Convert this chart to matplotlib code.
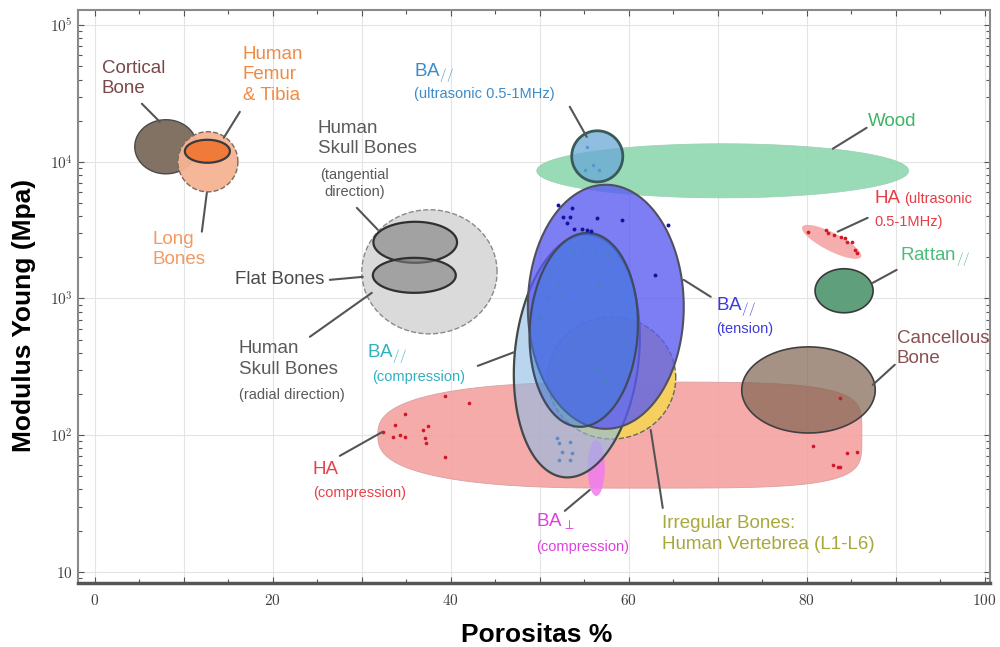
import numpy as np
import matplotlib
matplotlib.use('Agg')
import matplotlib.pyplot as plt
from matplotlib.colors import to_rgba
from matplotlib.ticker import MultipleLocator, FuncFormatter, LogLocator, NullFormatter

plt.rcParams['mathtext.fontset'] = 'cm'
plt.rcParams['font.family'] = ['Liberation Sans', 'DejaVu Sans']

# regions: centre porosity (%), centre modulus (MPa), half-width (%), half-height (decades), tilt (deg)
region_names = ['cortical', 'long', 'femur', 'skull', 'skull_tan', 'skull_rad', 'ba_us', 'wood',
                'ha_comp', 'ba_perp', 'irregular', 'ba_comp', 'ba_tens', 'ba_inner',
                'cancellous', 'rattan', 'ha_us']
region_x = [7.98, 12.7, 12.64, 37.6, 36.0, 35.9, 56.46, 70.56,
            59.0, 56.35, 58.09, 54.16, 57.42, 54.94,
            80.2, 84.2, 82.8]
region_y = [12880, 10000, 11940, 1567, 2576, 1476, 10960, 8590,
            100, 57.5, 262, 380, 869, 589,
            214, 1138, 2594]
region_dx = [3.5, 3.37, 2.53, 7.6, 4.7, 4.66, 2.87, 20.9,
             27.2, 0.95, 7.19, 6.97, 8.76, 6.07,
             7.5, 3.26, 3.71]
region_dlog = [0.198, 0.22, 0.084, 0.454, 0.15, 0.128, 0.187, 0.198,
               0.388, 0.205, 0.447, 0.893, 0.893, 0.71,
               0.315, 0.161, 0.066]
region_tilt = [0, 0, 0, 0, 0, 0, 0, 0,
               0, 0, 0, -6, 0, -3,
               0, 0, -27]

# measured points
ha_comp_x = [32.4, 33.7, 33.5, 34.3, 34.8, 34.9, 36.9, 37.4, 37.1, 37.2, 39.3, 39.3, 42.1,
             80.7, 84.5, 85.7, 82.9, 83.5, 83.7, 83.7]
ha_comp_y = [105, 119, 97, 100, 97, 143, 109, 117, 95, 88, 194, 69, 172,
             83, 74, 75, 60, 58, 58.5, 187]
ha_us_x = [80.1, 82.2, 82.4, 83.1, 83.9, 84.3, 84.5, 85.1, 85.4, 85.6]
ha_us_y = [3080, 3180, 3020, 2920, 2820, 2780, 2590, 2590, 2270, 2160]
ba_tens_x = [52.0, 53.6, 52.6, 53.4, 53.1, 56.4, 59.2, 53.9, 54.8, 55.3, 55.8, 64.4, 63.0]
ba_tens_y = [4840, 4600, 3950, 3950, 3570, 3890, 3760, 3240, 3240, 3180, 3130, 3460, 1490]
ba_comp_x = [53.7, 54.8, 56.2, 57.5, 51.1, 52.0, 56.4, 50.9, 52.5, 50.0, 53.4, 55.8, 59.3,
             56.4, 57.3, 51.9, 52.2, 53.4, 52.5, 53.6, 52.2, 53.4]
ba_comp_y = [2270, 2270, 2270, 2080, 1440, 1260, 1260, 1010, 1060, 721, 457, 481, 498,
             305, 249, 95, 88, 89, 75, 74, 66, 66]
ba_us_x = [55.3, 56.0, 56.7, 55.1]
ba_us_y = [12900, 9500, 8740, 8740]

styles = {
    'ha_comp':    dict(fc='#f59c9c', a=0.85, ec='#d8a0a0', lw=0.6, ls='-', z=2, nl=2.6, nr=4.5),
    'cortical':   dict(fc='#7b6a5c', a=0.95, ec='#4a4a4a', lw=1.0, ls='-', z=3),
    'long':       dict(fc='#f6b394', a=0.95, ec='#7a6a60', lw=1.0, ls='--', z=4),
    'femur':      dict(fc='#f07a3a', a=1.0, ec='#3a3a3a', lw=1.6, ls='-', z=5),
    'skull':      dict(fc='#dadada', a=1.0, ec='#8a8a8a', lw=1.0, ls='--', z=3),
    'skull_tan':  dict(fc='#7e7e7e', a=0.6, ec='#303030', lw=1.6, ls='-', z=4),
    'skull_rad':  dict(fc='#7e7e7e', a=0.6, ec='#303030', lw=1.6, ls='-', z=4),
    'wood':       dict(fc='#8ed8ae', a=0.9, ec='#9ad0b0', lw=0.5, ls='-', z=3),
    'ba_us':      dict(fc='#6aa8d8', a=0.75, ec='#3a5a5a', lw=2.0, ls='-', z=6),
    'ba_perp':    dict(fc='#f07af0', a=0.85, ec='none', lw=0, ls='-', z=3),
    'irregular':  dict(fc='#f7d35a', a=0.95, ec='#6a6a5a', lw=1.0, ls='--', z=3),
    'ba_comp':    dict(fc='#8cbce4', a=0.6, ec='#404848', lw=1.6, ls='-', z=4),
    'ba_tens':    dict(fc='#5c5cf2', a=0.8, ec='#505060', lw=1.5, ls='-', z=5),
    'ba_inner':   dict(fc='#3a7ad8', a=0.5, ec='#404a60', lw=1.6, ls='-', z=6),
    'cancellous': dict(fc='#806450', a=0.7, ec='#404040', lw=1.2, ls='-', z=4),
    'rattan':     dict(fc='#5f9f7c', a=1.0, ec='#3a3a3a', lw=1.2, ls='-', z=4),
    'ha_us':      dict(fc='#f6a4a4', a=0.9, ec='none', lw=0, ls='-', z=4),
}

fig = plt.figure(figsize=(10, 6.47), dpi=100)
ax = fig.add_axes([0.078, 0.099, 0.912, 0.886])
xlim = (-1.9, 100.6)
ylim = (8.28, 1.297e5)
ax.set_xlim(*xlim)
ax.set_yscale('log')
ax.set_ylim(*ylim)

# x-units per decade so that tilted shapes look right on screen
pos = ax.get_position()
W = fig.get_figwidth() * pos.width
H = fig.get_figheight() * pos.height
K = (H / np.log10(ylim[1] / ylim[0])) / (W / (xlim[1] - xlim[0]))


def blob(cx, cy, a, b, ang=0, nl=2, nr=2):
    t = np.linspace(0, 2 * np.pi, 500)
    c, s = np.cos(t), np.sin(t)
    n = np.where(c < 0, nl, nr)
    u = a * np.sign(c) * np.abs(c) ** (2 / n)
    v = b * K * np.sign(s) * np.abs(s) ** (2 / n)
    th = np.radians(ang)
    ur = u * np.cos(th) - v * np.sin(th)
    vr = u * np.sin(th) + v * np.cos(th)
    return cx + ur, 10 ** (np.log10(cy) + vr / K)


for i, name in enumerate(region_names):
    st = styles[name]
    xs, ys = blob(region_x[i], region_y[i], region_dx[i], region_dlog[i], region_tilt[i],
                  st.get('nl', 2), st.get('nr', 2))
    ax.fill(xs, ys, facecolor=to_rgba(st['fc'], st['a']), edgecolor=st['ec'],
            linewidth=st['lw'], linestyle=st['ls'], zorder=st['z'])

ax.scatter(ha_comp_x, ha_comp_y, s=7, color='#d01828', zorder=8, lw=0)
ax.scatter(ha_us_x, ha_us_y, s=7, color='#d01828', zorder=8, lw=0)
ax.scatter(ba_tens_x, ba_tens_y, s=8, color='#1414a0', zorder=8, lw=0)
ax.scatter(ba_comp_x, ba_comp_y, s=7, color='#4a80c0', alpha=0.8, zorder=8, lw=0)
ax.scatter(ba_us_x, ba_us_y, s=6, color='#4a90c8', alpha=0.8, zorder=8, lw=0)

# axes styling
ax.xaxis.set_major_locator(MultipleLocator(10))
ax.xaxis.set_minor_locator(MultipleLocator(5))
ax.xaxis.set_major_formatter(FuncFormatter(lambda v, p: f'${int(round(v))}$' if round(v) % 20 == 0 else ''))
ax.yaxis.set_major_locator(LogLocator(base=10))
ax.yaxis.set_minor_locator(LogLocator(base=10, subs=np.arange(2, 10)))
ax.yaxis.set_minor_formatter(NullFormatter())
ax.yaxis.set_major_formatter(FuncFormatter(
    lambda v, p: '$10$' if abs(v - 10) < 1e-6 else f'$10^{{{int(round(np.log10(v)))}}}$'))
ax.tick_params(which='both', direction='in', top=True, right=True, colors='#555555',
               labelcolor='#404040', labelsize=11, width=0.8)
ax.tick_params(which='major', length=4)
ax.tick_params(which='minor', length=3)
ax.tick_params(axis='x', pad=7)
ax.grid(True, which='major', color='#e4e4e4', lw=0.8, zorder=0)
ax.set_axisbelow(True)
for side in ['left', 'top', 'right']:
    ax.spines[side].set_color('#8a8a8a')
    ax.spines[side].set_linewidth(1.5)
ax.spines['bottom'].set_color('#555555')
ax.spines['bottom'].set_linewidth(2.5)

fig.text(0.537, 0.008, 'Porositas %', ha='center', va='baseline', fontsize=19, weight='bold')
fig.text(0.024, 0.512, 'Modulus Young (Mpa)', ha='center', va='center', fontsize=19,
         weight='bold', rotation=90)

big, small = 13.5, 10.5
lead = dict(arrowstyle='-', color='#555555', lw=1.5, shrinkA=0, shrinkB=0)


def label(x, y, s, color, size=big, **kw):
    ax.text(x, y, s, color=color, fontsize=size, ha='left', va='center', zorder=10,
            linespacing=1.25, **kw)


def leader(x0, y0, x1, y1):
    ax.annotate('', xy=(x1, y1), xytext=(x0, y0), arrowprops=lead, zorder=9)


label(0.79, 40800, 'Cortical\nBone', '#7a4848')
leader(5.28, 26600, 7.30, 19600)
label(16.63, 43300, 'Human\nFemur\n& Tibia', '#f08a44')
leader(16.29, 23200, 14.49, 15000)
label(6.52, 2270, 'Long\nBones', '#f39a62')
leader(12.58, 5930, 12.02, 3080)

label(25.06, 14730, 'Human\nSkull Bones', '#5a5a5a')
label(25.28, 6900, '(tangential\ndirection)', '#5a5a5a', size=small, multialignment='center')
leader(29.44, 4600, 31.80, 3180)
label(15.73, 1368, 'Flat Bones', '#4a4a4a')
leader(26.40, 1368, 30.11, 1439)
label(16.18, 361, 'Human\nSkull Bones', '#5a5a5a')
label(16.18, 197, '(radial direction)', '#5a5a5a', size=small)
leader(24.16, 524, 31.12, 1099)

label(30.56, 393, r'BA$_{//}$', '#30b0c0')
label(31.12, 267, '(compression)', '#30b0c0', size=small)
leader(43.03, 321, 47.19, 406)
label(24.49, 55.6, 'HA', '#e8404a')
label(24.49, 37.8, '(compression)', '#e8404a', size=small)
leader(27.53, 70.5, 32.25, 105)
label(49.55, 23.2, r'BA$_{\perp}$', '#e040e0')
label(49.55, 15.2, '(compression)', '#e040e0', size=small)
leader(52.81, 27.9, 55.62, 39.7)
label(63.71, 18.9, 'Irregular Bones:\nHuman Vertebrea (L1-L6)', '#a8a83c')
leader(63.82, 29.3, 62.47, 109)

label(90.11, 431, 'Cancellous\nBone', '#8a5050')
leader(89.9, 327, 87.42, 233)
label(69.78, 869, r'BA$_{//}$', '#3c3cdc')
label(69.78, 598, '(tension)', '#3c3cdc', size=small)
leader(69.21, 1028, 66.18, 1368)
label(90.45, 2018, r'Rattan$_{//}$', '#4cbc7c')
leader(90.11, 1619, 87.42, 1300)
label(87.64, 5357, 'HA', '#e83c46')
label(91.0, 5357, '(ultrasonic', '#e83c46', size=small)
label(87.64, 3640, '0.5-1MHz)', '#e83c46', size=small)
leader(86.85, 3890, 83.48, 3080)
label(86.85, 19620, 'Wood', '#3cb464')
leader(86.74, 17740, 82.92, 12450)
label(35.84, 44900, r'BA$_{//}$', '#3c8cc8')
label(35.84, 31500, '(ultrasonic 0.5-1MHz)', '#3c8cc8', size=small)
leader(53.37, 25300, 55.28, 15200)

fig.savefig('out.png', dpi=100)
